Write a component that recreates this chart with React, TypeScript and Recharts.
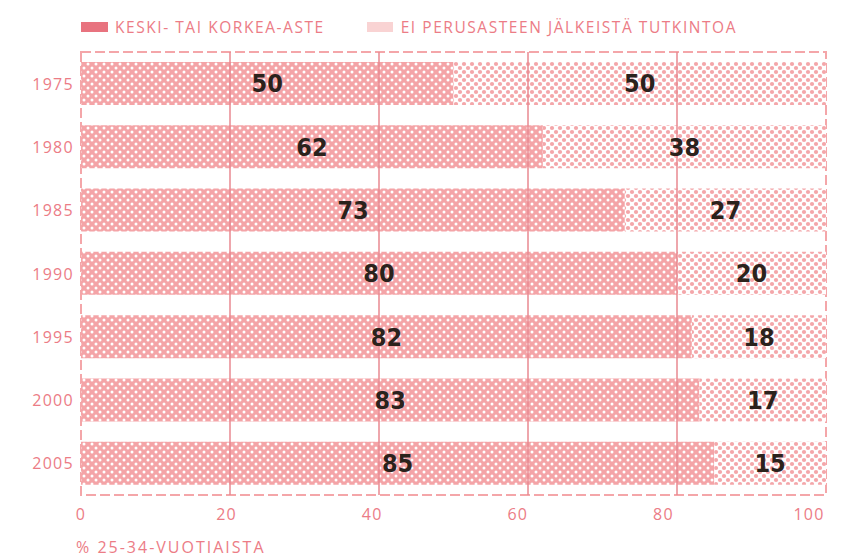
import React from 'react';
import { BarChart, Bar, XAxis, YAxis, ReferenceLine, ReferenceArea, LabelList } from 'recharts';

const years = ['1975', '1980', '1985', '1990', '1995', '2000', '2005'];
const keski = [50, 62, 73, 80, 82, 83, 85];
const ei = [50, 38, 27, 20, 18, 17, 15];
const xTicks = [0, 20, 40, 60, 80, 100];
const gridValues = [20, 40, 60, 80];
const seriesNames = ['KESKI- TAI KORKEA-ASTE', 'EI PERUSASTEEN JÄLKEISTÄ TUTKINTOA'];
const axisTitle = '% 25-34-VUOTIAISTA';

const data = years.map((y, i) => ({ year: y, keski: keski[i], ei: ei[i] }));

const PINK_TEXT = '#ec7c86';
const FONT = '"Open Sans", "Noto Sans", sans-serif';

const XTick = (props: any) => {
  const { x, y, payload } = props;
  const shift = -payload.value * 0.17;
  return (
    <text x={x + shift} y={y} dy={15} textAnchor="middle" fill={PINK_TEXT} fontFamily={FONT} fontSize={16} letterSpacing={1.2}>
      {payload.value}
    </text>
  );
};

const YTick = (props: any) => {
  const { x, y, payload } = props;
  return (
    <text x={x} y={y} dy={6} textAnchor="end" fill={PINK_TEXT} fontFamily={FONT} fontSize={16} letterSpacing={1.3}>
      {payload.value}
    </text>
  );
};

const labelStyle = {
  fill: '#2b221c',
  fontFamily: '"DejaVu Sans", sans-serif',
  fontStretch: 'condensed',
  fontWeight: 700,
  fontSize: 25,
};

export default function App() {
  return (
    <div style={{ position: 'relative', width: 833, height: 551, background: '#fff' }}>
      <div style={{ position: 'absolute', left: 73, top: 8, display: 'flex', alignItems: 'center', fontFamily: FONT, fontSize: 15.5, letterSpacing: 1.55, color: PINK_TEXT, whiteSpace: 'nowrap' }}>
        <span style={{ display: 'inline-block', width: 27, height: 10, background: '#e8737f', marginRight: 7 }} />
        <span style={{ marginRight: 42 }}>{seriesNames[0]}</span>
        <span style={{ display: 'inline-block', width: 26, height: 10, background: '#f9d3d3', marginRight: 8 }} />
        <span>{seriesNames[1]}</span>
      </div>
      <div style={{ position: 'absolute', left: 68, top: 529, fontFamily: FONT, fontSize: 16, letterSpacing: 2, color: PINK_TEXT, whiteSpace: 'nowrap', lineHeight: '20px' }}>
        {axisTitle}
      </div>
      <div style={{ position: 'absolute', left: 0, top: 0 }}>
        <BarChart
          width={833}
          height={543}
          data={data}
          layout="vertical"
          margin={{ top: 44, right: 15, bottom: 26, left: 0 }}
          barSize={43}
        >
          <defs>
            <pattern id="patDark" patternUnits="userSpaceOnUse" width="8" height="8">
              <rect x="0" y="0" width="8" height="8" fill="#f4a4a7" />
              <circle cx="0" cy="0" r="1.5" fill="#fff" />
              <circle cx="8" cy="0" r="1.5" fill="#fff" />
              <circle cx="0" cy="8" r="1.5" fill="#fff" />
              <circle cx="8" cy="8" r="1.5" fill="#fff" />
              <circle cx="4" cy="4" r="1.5" fill="#fff" />
            </pattern>
            <pattern id="patLight" patternUnits="userSpaceOnUse" width="8" height="8">
              <rect x="0" y="0" width="8" height="8" fill="#fff" />
              <circle cx="0" cy="0" r="2.1" fill="#f4a6a9" />
              <circle cx="8" cy="0" r="2.1" fill="#f4a6a9" />
              <circle cx="0" cy="8" r="2.1" fill="#f4a6a9" />
              <circle cx="8" cy="8" r="2.1" fill="#f4a6a9" />
              <circle cx="4" cy="4" r="2.1" fill="#f4a6a9" />
            </pattern>
          </defs>
          <XAxis
            type="number"
            domain={[0, 100]}
            ticks={xTicks}
            axisLine={false}
            tickLine={false}
            tickSize={0}
            tickMargin={10}
            height={30}
            tick={<XTick />}
            interval={0}
          />
          <YAxis
            type="category"
            dataKey="year"
            width={73}
            axisLine={false}
            tickLine={false}
            tickSize={0}
            tickMargin={7}
            tick={<YTick />}
          />
          <ReferenceArea x1={0} x2={100} fill="none" stroke="#f4a6a9" strokeWidth={2} strokeDasharray="10 4" ifOverflow="visible" />
          <Bar dataKey="keski" stackId="a" fill="url(#patDark)" isAnimationActive={false}>
            <LabelList dataKey="keski" position="center" style={labelStyle} />
          </Bar>
          <Bar dataKey="ei" stackId="a" fill="url(#patLight)" isAnimationActive={false}>
            <LabelList dataKey="ei" position="center" style={labelStyle} />
          </Bar>
          {gridValues.map((v) => (
            <ReferenceLine key={v} x={v} stroke="#e98891" strokeWidth={1.5} ifOverflow="visible" />
          ))}
        </BarChart>
      </div>
    </div>
  );
}
